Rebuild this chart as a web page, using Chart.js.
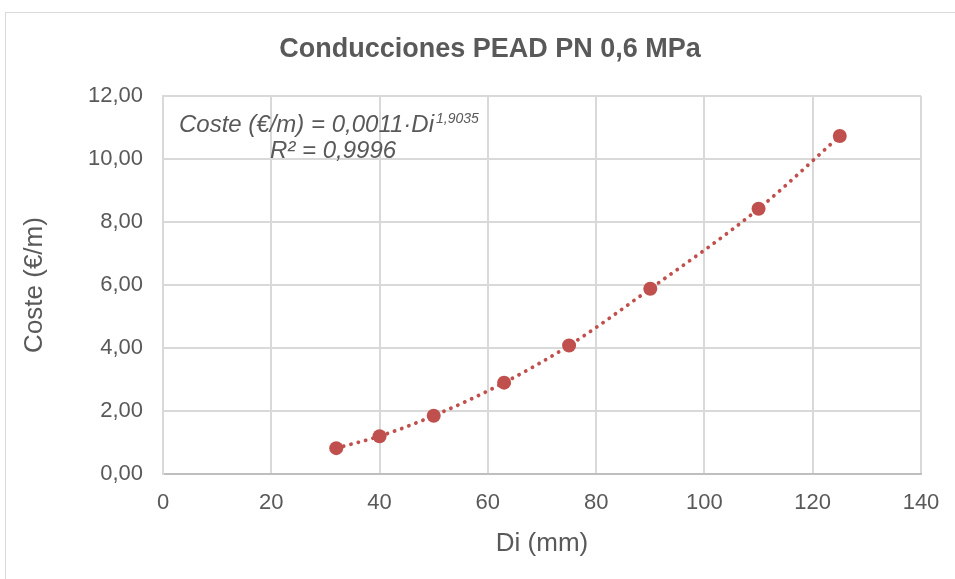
<!DOCTYPE html>
<html>
<head>
<meta charset="utf-8">
<script src="https://cdn.jsdelivr.net/npm/chart.js@4.4.0/dist/chart.umd.min.js"></script>
<style>
  html, body { margin: 0; padding: 0; background: #fff; overflow: hidden; }
  #frame {
    position: absolute; left: 5px; top: 12px;
    width: 1000px; height: 1000px;
    border: 1px solid #d9d9d9;
  }
  #wrap { position: absolute; left: 0; top: 0; width: 980px; height: 579px; }
</style>
</head>
<body>
<div id="frame"></div>
<div id="wrap"><canvas id="myChart" width="980" height="579"></canvas></div>
<script>
// diámetro interior (mm) y coste (€/m)
const diameters = [32, 40, 50, 63, 75, 90, 110, 125];
const costs = [0.82, 1.2, 1.85, 2.9, 4.08, 5.88, 8.42, 10.73];

const chartTitle = "Conducciones PEAD PN 0,6 MPa";
const xTitle = "Di (mm)";
const yTitle = "Coste (€/m)";
const eqText = "Coste (€/m) = 0,0011·Di";
const eqExp = "1,9035";
const r2Text = "R² = 0,9996";

const textColor = "#595959";
const markColor = "#C0504D";
const fontFamily = "'Liberation Sans', Arial, sans-serif";

// título centrado sobre el objeto gráfico y ecuación de la tendencia
const chartLabels = {
  id: "chartLabels",
  afterDraw(chart) {
    const ctx = chart.ctx;
    ctx.save();
    ctx.fillStyle = textColor;
    ctx.textBaseline = "alphabetic";

    ctx.textAlign = "center";
    ctx.font = "bold 27px " + fontFamily;
    ctx.fillText(chartTitle, 490, 57);

    ctx.textAlign = "left";
    ctx.font = "italic 24px " + fontFamily;
    ctx.fillText(eqText, 179, 132);
    const w = ctx.measureText(eqText).width;
    ctx.font = "italic 14px " + fontFamily;
    ctx.fillText(eqExp, 179 + w + 2, 123);
    ctx.font = "italic 24px " + fontFamily;
    ctx.fillText(r2Text, 270, 158);
    ctx.restore();
  },
};

const ctx = document.getElementById("myChart").getContext("2d");
const myChart = new Chart(ctx, {
  type: "scatter",
  data: {
    datasets: [
      {
        label: "Coste",
        data: diameters.map((d, i) => ({ x: d, y: costs[i] })),
        showLine: true,
        cubicInterpolationMode: "monotone",
        borderColor: markColor,
        borderWidth: 3.8,
        borderDash: [0.1, 7.5],
        borderCapStyle: "round",
        backgroundColor: markColor,
        pointBackgroundColor: markColor,
        pointBorderColor: markColor,
        pointRadius: 7,
        pointBorderWidth: 0,
      },
    ],
  },
  options: {
    responsive: false,
    animation: false,
    layout: { padding: { left: 0, right: 59, top: 96, bottom: 0 } },
    plugins: {
      legend: { display: false },
      tooltip: { enabled: false },
    },
    scales: {
      x: {
        type: "linear",
        min: 0,
        max: 140,
        ticks: {
          stepSize: 20,
          color: textColor,
          font: { family: fontFamily, size: 22 },
          padding: 16,
          maxRotation: 0,
        },
        grid: { color: "#d9d9d9", lineWidth: 2, drawTicks: false },
        border: { color: "#bfbfbf", width: 2 },
        title: {
          display: true,
          text: xTitle,
          color: textColor,
          font: { family: fontFamily, size: 26 },
          padding: { top: 0, bottom: 20 },
        },
        afterFit(scale) {
          scale.height = 105;
        },
      },
      y: {
        min: 0,
        max: 12,
        ticks: {
          stepSize: 2,
          color: textColor,
          font: { family: fontFamily, size: 22 },
          padding: 20,
          callback: (value) => value.toFixed(2).replace(".", ","),
        },
        grid: { color: "#d9d9d9", lineWidth: 2, drawTicks: false },
        border: { color: "#d9d9d9", width: 2 },
        title: {
          display: true,
          text: yTitle,
          color: textColor,
          font: { family: fontFamily, size: 26 },
          padding: { top: 19, bottom: 0 },
        },
        afterFit(scale) {
          scale.width = 163;
        },
      },
    },
  },
  plugins: [chartLabels],
});
</script>
</body>
</html>
